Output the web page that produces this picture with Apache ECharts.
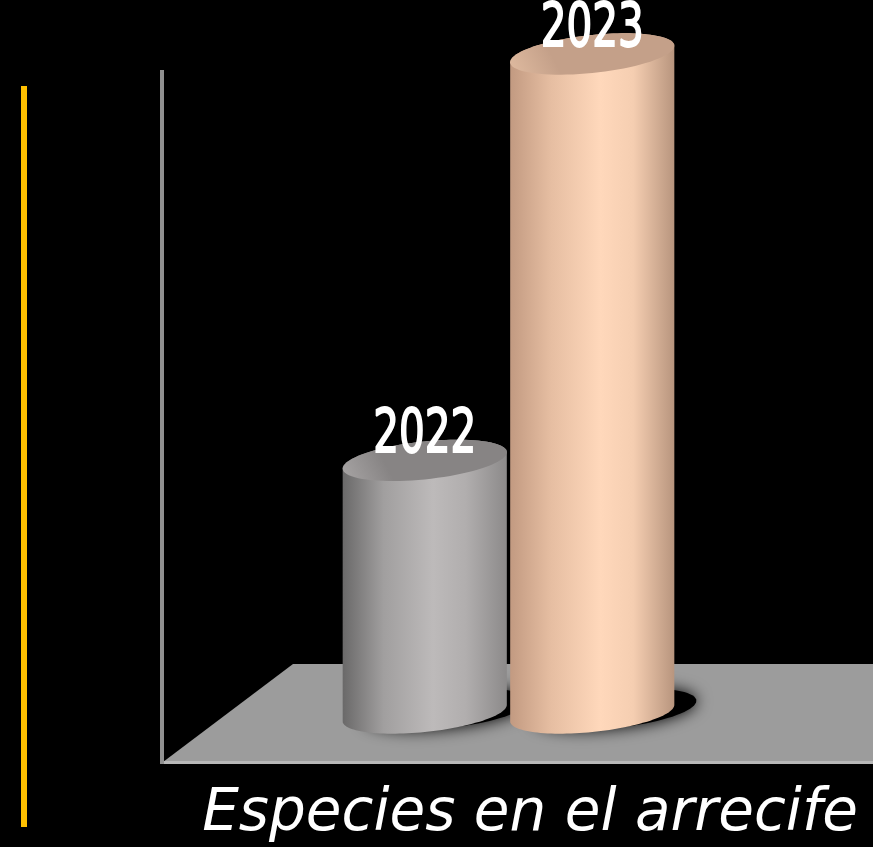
<!DOCTYPE html>
<html>
<head>
<meta charset="utf-8">
<script src="https://cdn.jsdelivr.net/npm/echarts@6/dist/echarts.min.js"></script>
<style>
 html, body { margin: 0; padding: 0; background: #000; }
 #chart { width: 873px; height: 847px; }
</style>
</head>
<body>
<div id="chart"></div>
<script>
// datos
const years = ['2022', '2023']
const species = [23, 60]
const titleText = 'Especies en el arrecife'

// colores de cada cilindro: lados (izq -> der) y tapa
const palette = [
 { side: ['#6a6969', '#a19f9f', '#bdbaba', '#b1aeae', '#8c8a8a'], cap: ['#a8a5a5', '#878484'] },
 { side: ['#c29a81', '#e6bea2', '#ffd8bb', '#f5ceb1', '#b8957e'], cap: ['#e0bba0', '#c4a089'] }
]

const RY = 19
const SHEAR = 0.1

const ellipsePts = (cx, cy, rx, t0, t1, n) => {
 const pts = []
 for (let i = 0; i <= n; i++) {
  const t = t0 + (t1 - t0) * i / n
  pts.push([cx + rx * Math.cos(t), cy + RY * Math.sin(t) - SHEAR * rx * Math.cos(t)])
 }
 return pts
}

const renderCylinder = (params, api) => {
 const idx = api.value(0)
 const top = api.coord([idx, api.value(1)])
 const base = api.coord([idx, 0])
 const rx = api.size([1, 0])[0] * 0.49
 const cx = top[0]
 const pal = palette[idx]

 const bottomHalf = ellipsePts(cx, base[1], rx, Math.PI, 0, 60)
 const topBack = ellipsePts(cx, top[1], rx, 0, -Math.PI, 60)
 const body = bottomHalf.concat(topBack)
 const shadow = ellipsePts(cx + 22, base[1] - 4, rx, 0, Math.PI * 2, 80)
 const cap = ellipsePts(cx, top[1], rx, 0, Math.PI * 2, 80)

 return {
  type: 'group',
  children: [
   {
    type: 'polygon',
    shape: { points: shadow },
    style: { fill: '#000', shadowBlur: 16, shadowColor: '#000' }
   },
   {
    type: 'polygon',
    shape: { points: body },
    style: {
     fill: new echarts.graphic.LinearGradient(0, 0, 1, 0, [
      { offset: 0, color: pal.side[0] },
      { offset: 0.25, color: pal.side[1] },
      { offset: 0.55, color: pal.side[2] },
      { offset: 0.75, color: pal.side[3] },
      { offset: 1, color: pal.side[4] }
     ])
    }
   },
   {
    type: 'polygon',
    shape: { points: cap },
    style: {
     fill: new echarts.graphic.LinearGradient(0, 1, 0.5, 0, [
      { offset: 0, color: pal.cap[0] },
      { offset: 0.5, color: pal.cap[1] },
      { offset: 1, color: pal.cap[1] }
     ])
    }
   },
   {
    type: 'text',
    x: cx,
    y: top[1] - 24,
    scaleY: 1.35,
    style: {
     text: years[idx],
     x: 0,
     y: 0,
     align: 'center',
     verticalAlign: 'middle',
     fill: '#fff',
     stroke: '#fff',
     lineWidth: 1.4,
     font: '45px "DejaVu Sans Condensed", "DejaVu Sans", sans-serif'
    }
   }
  ]
 }
}

const option = {
 backgroundColor: '#000',
 animation: false,
 title: {
  text: titleText,
  right: 10,
  top: 781,
  textStyle: {
   color: '#fff',
   fontSize: 58,
   fontStyle: 'italic',
   fontWeight: 'normal',
   fontFamily: '"DejaVu Sans", sans-serif'
  }
 },
 grid: { left: 341, right: 197, top: 54, bottom: 134 },
 xAxis: { type: 'category', data: years, show: false },
 yAxis: { type: 'value', min: 0, max: 60, show: false },
 graphic: [
  // linea amarilla
  { type: 'rect', shape: { x: 21, y: 86, width: 6, height: 741 }, style: { fill: '#ffc000' }, z: 0 },
  // piso
  {
   type: 'polygon',
   shape: { points: [[163, 762], [873, 762], [873, 664], [293, 664]] },
   style: { fill: '#9c9c9c' },
   z: 0
  },
  { type: 'line', shape: { x1: 163, y1: 762.5, x2: 873, y2: 762.5 }, style: { stroke: '#b8b8b8', lineWidth: 3 }, z: 0 },
  // eje vertical
  { type: 'line', shape: { x1: 162, y1: 70, x2: 162, y2: 764 }, style: { stroke: '#909090', lineWidth: 4 }, z: 0 }
 ],
 series: [
  {
   type: 'custom',
   renderItem: renderCylinder,
   data: years.map((y, i) => [i, species[i]]),
   z: 5
  }
 ]
}

const chart = echarts.init(document.getElementById('chart'))
chart.setOption(option)
</script>
</body>
</html>
